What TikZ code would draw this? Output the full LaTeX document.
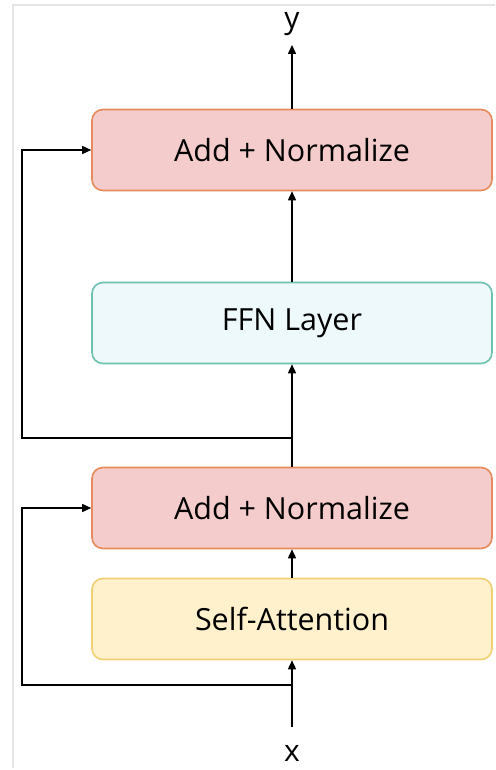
\documentclass[tikz,border=0pt]{standalone}
\usepackage{fontspec}
\setmainfont{Open Sans}
\usetikzlibrary{arrows.meta}
\definecolor{normfill}{HTML}{F5CCCC}
\definecolor{normdraw}{HTML}{E58A5A}
\definecolor{ffnfill}{HTML}{EEF9FB}
\definecolor{ffndraw}{HTML}{6CC2AE}
\definecolor{attfill}{HTML}{FFF1CC}
\definecolor{attdraw}{HTML}{F2CF72}
\tikzset{
  block/.style={rounded corners=11pt, line width=1.6pt, minimum width=400pt,
    minimum height=81pt, inner sep=0pt, font=\fontsize{30.5}{34}\selectfont},
  normbox/.style={block, fill=normfill, draw=normdraw},
  ffnbox/.style={block, fill=ffnfill, draw=ffndraw},
  attbox/.style={block, fill=attfill, draw=attdraw},
  conn/.style={line width=1.5pt, -{Triangle[length=9pt,width=8pt]}},
  lbl/.style={font=\fontsize{30}{34}\selectfont, inner sep=0pt}
}
\begin{document}
\begin{tikzpicture}[x=1pt,y=-1pt]
  \useasboundingbox (0,0) rectangle (495,770);
  \fill[white] (0,0) rectangle (495,770);
  % faint frame
  \draw[black!10, line width=1.2pt] (13,768) -- (13,5) -- (495,5);

  % blocks
  \node[normbox] (an2) at (292,150) {Add + Normalize};
  \node[ffnbox]  (ffn) at (292,323) {FFN Layer};
  \node[normbox] (an1) at (292,508) {Add + Normalize};
  \node[attbox]  (att) at (292,619) {Self-Attention};

  % input / output labels
  \node[lbl] (x) at (292,753) {x};
  \node[lbl] (y) at (292,24) {y};
  \coordinate (xin) at (292,727);
  \coordinate (yout) at (292,45);

  % skip branch points
  \coordinate (s1) at (292,685);
  \coordinate (s2) at (292,438);

  % main path
  \draw[conn] (xin) -- (att.south);
  \draw[conn] (att.north) -- (an1.south);
  \draw[conn] (an1.north) -- (ffn.south);
  \draw[conn] (ffn.north) -- (an2.south);
  \draw[conn] (an2.north) -- (yout);

  % residual connections
  \draw[conn] (s1) -| (22,508) -- (an1.west);
  \draw[conn] (s2) -| (22,150) -- (an2.west);
\end{tikzpicture}
\end{document}
